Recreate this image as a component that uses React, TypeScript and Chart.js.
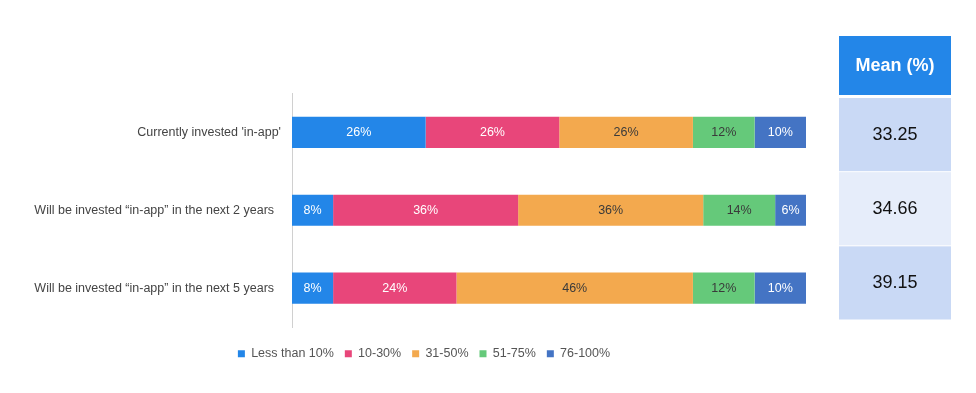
import React, { useEffect, useRef } from "react";
import { Chart, registerables } from "chart.js";

Chart.register(...registerables);

// ---- data ----
const categories = [
  "Currently invested 'in-app'",
  "Will be invested “in-app” in the next 2 years  ",
  "Will be invested “in-app” in the next 5 years  ",
];
const seriesNames = ["Less than 10%", "10-30%", "31-50%", "51-75%", "76-100%"];
const lessThan10 = [26, 8, 8];
const from10to30 = [26, 36, 24];
const from31to50 = [26, 36, 46];
const from51to75 = [12, 14, 12];
const from76to100 = [10, 6, 10];
const meanHeader = "Mean (%)";
const meanValues = ["33.25", "34.66", "39.15"];

// ---- styles ----
const FONT = "'Liberation Sans', Arial, Helvetica, sans-serif";
const barColors = ["#2386E8", "#E8467A", "#F3A94E", "#65C97A", "#4474C4"];
const labelColors = ["#ffffff", "#ffffff", "#3a3a3a", "#3a3a3a", "#ffffff"];
const headerColor = "#2386E8";
const rowColors = ["#C9D9F5", "#E6EDFA", "#C9D9F5"];

const valueLabels = {
  id: "valueLabels",
  afterDatasetsDraw(chart: any) {
    const ctx = chart.ctx;
    ctx.save();
    ctx.font = `12.5px ${FONT}`;
    ctx.textAlign = "center";
    ctx.textBaseline = "middle";
    chart.data.datasets.forEach((ds: any, di: number) => {
      const meta = chart.getDatasetMeta(di);
      meta.data.forEach((bar: any, i: number) => {
        const v = ds.data[i];
        const cx = (bar.x + bar.base) / 2;
        ctx.fillStyle = labelColors[di];
        ctx.fillText(`${v}%`, cx, bar.y + 0.5);
      });
    });
    ctx.restore();
  },
};

// shifts the legend's centring box so it is centred like the reference
const legendShift = {
  id: "legendShift",
  afterLayout(chart: any) {
    if (chart.legend) {
      chart.legend.left += 34;
    }
  },
};

const meanTable = {
  id: "meanTable",
  afterDraw(chart: any) {
    const { ctx, chartArea } = chart;
    const left = chartArea.right + 33;
    const width = 112;
    ctx.save();
    const hTop = chartArea.top - 57.5;
    const hBottom = chartArea.top + 1.5;
    ctx.fillStyle = headerColor;
    ctx.fillRect(left, hTop, width, hBottom - hTop);
    ctx.fillStyle = "#ffffff";
    ctx.font = `bold 18px ${FONT}`;
    ctx.textAlign = "center";
    ctx.textBaseline = "middle";
    ctx.fillText(meanHeader, left + width / 2, (hTop + hBottom) / 2 + 1);
    const start = chartArea.top + 4.5;
    const end = chartArea.bottom - 6.5;
    const rowH = (end - start) / meanValues.length;
    ctx.font = `18px ${FONT}`;
    meanValues.forEach((v, i) => {
      const top = start + i * rowH;
      ctx.fillStyle = rowColors[i % rowColors.length];
      ctx.fillRect(left, top, width, rowH - 1);
      ctx.fillStyle = "#111111";
      ctx.fillText(v, left + width / 2, top + rowH / 2);
    });
    ctx.restore();
  },
};

export default function App() {
  const ref = useRef<HTMLCanvasElement>(null);
  useEffect(() => {
    if (!ref.current) return;
    const series = [lessThan10, from10to30, from31to50, from51to75, from76to100];
    const chart = new Chart(ref.current, {
      type: "bar",
      data: {
        labels: categories,
        datasets: series.map((d, i) => ({
          label: seriesNames[i],
          data: d,
          backgroundColor: barColors[i],
          borderWidth: 0,
          categoryPercentage: 0.8,
          barPercentage: 0.5,
        })),
      },
      plugins: [valueLabels, meanTable, legendShift],
      options: {
        indexAxis: "y",
        animation: false,
        responsive: true,
        maintainAspectRatio: false,
        layout: { padding: { top: 85.5, left: 0, right: 162, bottom: 15 } },
        scales: {
          x: {
            stacked: true,
            min: 0,
            max: 100,
            grid: { display: false, drawTicks: false },
            border: { display: false },
            ticks: { display: false },
            afterFit(scale: any) {
              scale.height = 9.5;
            },
          },
          y: {
            stacked: true,
            grid: { display: false, drawTicks: false },
            border: { display: true, color: "#d0d0d0", width: 1 },
            ticks: {
              padding: 11,
              color: "#444444",
              font: { family: FONT, size: 12.5 },
            },
            afterFit(scale: any) {
              scale.width = 284;
            },
          },
        },
        plugins: {
          legend: {
            position: "bottom",
            labels: {
              boxWidth: 7,
              boxHeight: 7,
              padding: 11,
              color: "#555555",
              font: { family: FONT, size: 12.5 },
            },
          },
          tooltip: { enabled: false },
        },
      },
    } as any);
    return () => chart.destroy();
  }, []);
  return (
    <div style={{ position: "relative", width: 960, height: 377 }}>
      <canvas ref={ref} />
    </div>
  );
}
